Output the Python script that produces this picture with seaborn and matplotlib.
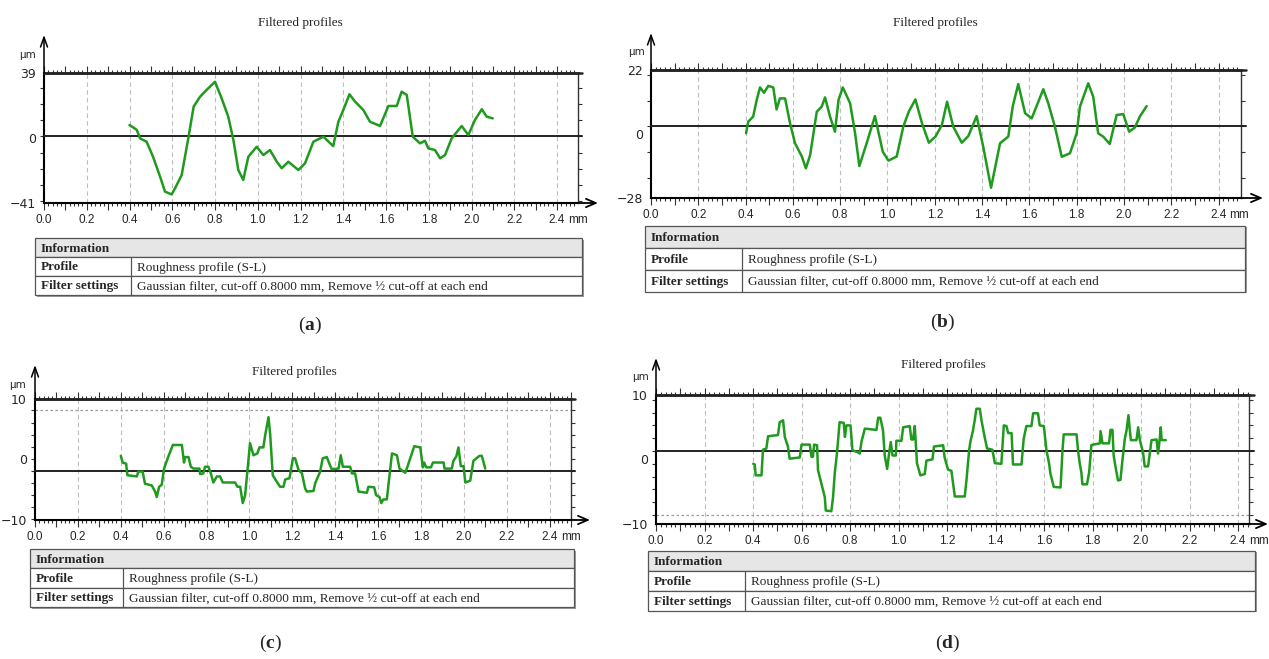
import numpy as np
import matplotlib
matplotlib.use('Agg')
import matplotlib.pyplot as plt
import seaborn as sns
from matplotlib import font_manager
from matplotlib.patches import Rectangle
from matplotlib.ticker import MultipleLocator, FixedLocator, FuncFormatter

# Filtered roughness profiles (x in mm, y in um)
a_x = [0.40, 0.434, 0.449, 0.48, 0.51, 0.543, 0.566, 0.597, 0.613, 0.644,
       0.675, 0.70, 0.73, 0.76, 0.80, 0.831, 0.862, 0.886, 0.909, 0.932,
       0.956, 0.995, 1.026, 1.057, 1.089, 1.112, 1.143, 1.19, 1.221, 1.26,
       1.307, 1.353, 1.377, 1.40, 1.429, 1.455, 1.494, 1.525, 1.572, 1.611,
       1.65, 1.673, 1.697, 1.725, 1.759, 1.782, 1.798, 1.829, 1.853, 1.876,
       1.907, 1.954, 1.985, 2.016, 2.048, 2.071, 2.099]
a_y = [7, 4, -1.2, -3.3, -12.5, -24.8, -34, -35.7, -32, -23.8,
       -1.2, 18.3, 24.4, 28.5, 33.6, 23.4, 12.1, -2.2, -20.7, -26.8,
       -12.5, -6.4, -11.5, -8.4, -15.6, -19.6, -15.6, -20.7, -16.6, -3.3,
       -0.2, -6, 9, 16.2, 25.9, 21.4, 16.2, 9, 6.4, 18.7,
       18.7, 27.5, 25.5, -0.2, -4.3, -2.7, -7.4, -8.4, -13.5, -11.5,
       -1.2, 6.4, 0.8, 10.1, 16.7, 12.1, 11.1]

b_x = [0.402, 0.411, 0.432, 0.447, 0.461, 0.478, 0.496, 0.517, 0.531, 0.545,
       0.567, 0.588, 0.609, 0.638, 0.655, 0.673, 0.701, 0.722, 0.736, 0.757,
       0.778, 0.793, 0.811, 0.842, 0.863, 0.881, 0.912, 0.947, 0.98, 1.004,
       1.039, 1.067, 1.09, 1.118, 1.146, 1.175, 1.203, 1.23, 1.252, 1.278,
       1.314, 1.342, 1.377, 1.405, 1.438, 1.476, 1.511, 1.53, 1.553, 1.582,
       1.61, 1.659, 1.68, 1.708, 1.737, 1.772, 1.80, 1.814, 1.849, 1.87,
       1.891, 1.912, 1.94, 1.969, 1.997, 2.022, 2.046, 2.067, 2.096]
b_y = [-2.7, 1.8, 3.8, 10.3, 15.2, 13.1, 15.8, 15.2, 6.6, 10.9,
       10.9, 1.2, -6.6, -11.8, -16.4, -11.2, 5.7, 7.7, 11.3, 3.8,
       -2.1, 10.3, 15.2, 9, -2.7, -15.5, -6.6, 4, -9.9, -13.4,
       -11.8, -0.1, 5.7, 10.5, 1.2, -6.4, -4, 0.5, 9.6, -0.1,
       -6.4, -3.8, 4, -8, -24, -6.6, -4, 7.9, 16.5, 5.1,
       3.1, 14.5, 9, -0.1, -11.9, -10.5, -2.7, 7.7, 16.8, 11.6,
       -2.7, -4, -6.9, 4.4, 4.8, -2.1, -0.5, 3.8, 7.9]

c_x = [0.40, 0.409, 0.425, 0.431, 0.475, 0.482, 0.502, 0.513, 0.545, 0.56,
       0.568, 0.579, 0.591, 0.602, 0.622, 0.643, 0.685, 0.695, 0.70, 0.716,
       0.727, 0.739, 0.767, 0.77, 0.785, 0.793, 0.809, 0.82, 0.832, 0.848,
       0.863, 0.876, 0.933, 0.944, 0.957, 0.969, 0.98, 1.003, 1.019, 1.037,
       1.047, 1.065, 1.073, 1.089, 1.097, 1.109, 1.128, 1.143, 1.159, 1.167,
       1.187, 1.203, 1.213, 1.229, 1.245, 1.26, 1.268, 1.299, 1.307, 1.33,
       1.342, 1.361, 1.373, 1.384, 1.416, 1.426, 1.436, 1.47, 1.478, 1.493,
       1.509, 1.548, 1.555, 1.582, 1.591, 1.607, 1.615, 1.625, 1.641, 1.665,
       1.688, 1.70, 1.727, 1.738, 1.75, 1.769, 1.797, 1.809, 1.815, 1.825,
       1.847, 1.856, 1.906, 1.91, 1.944, 1.952, 1.965, 1.975, 1.986, 1.999,
       2.007, 2.03, 2.045, 2.073, 2.084, 2.10]
c_y = [2.5, 1.4, 1.2, -0.7, -0.9, -0.1, -0.1, -2.1, -2.4, -3.4,
       -4.3, -2.6, -2.3, 0.4, 2.4, 4.3, 4.3, 1.4, 2.3, 2.3,
       0.7, 0.4, 0.4, -0.5, -0.4, 0.7, 0.7, -0.4, -1.9, -0.9,
       -0.9, -1.9, -1.9, -2.6, -2.6, -5.3, -4, 4.6, 2.6, 2.9,
       3.9, 3.9, 5.8, 8.9, 6, -0.7, -1.8, -2.6, -2.6, -1.4,
       -1.2, 2.1, 2.1, 0.2, -0.4, -2.9, -3.4, -3.3, -2, -0.1,
       2.1, 2.3, 1.2, 0.3, 0.4, 2.6, 0.7, 0.7, -0.4, -0.4,
       -3.4, -3.6, -2.6, -2.7, -4, -4.3, -5.3, -4.7, -4.7, 2.9,
       2.6, 0.4, -0.3, 0.8, 2.1, 4.1, 3.9, 0.6, 1.4, 0.6,
       0.6, 1.4, 1.4, 0.4, 0.4, 1.7, 2.4, 3.9, 0.8, 0.8,
       -1.9, -1.6, 1.7, 2.5, 2.5, 0.4]

d_x = [0.401, 0.407, 0.411, 0.435, 0.441, 0.455, 0.462, 0.503, 0.51, 0.524,
       0.531, 0.544, 0.551, 0.593, 0.60, 0.634, 0.641, 0.647, 0.652, 0.664,
       0.668, 0.682, 0.696, 0.70, 0.723, 0.73, 0.737, 0.746, 0.757, 0.774,
       0.779, 0.785, 0.802, 0.81, 0.833, 0.84, 0.847, 0.861, 0.909, 0.916,
       0.925, 0.936, 0.943, 0.953, 0.961, 0.968, 0.975, 0.989, 0.991, 1.012,
       1.019, 1.046, 1.053, 1.06, 1.067, 1.076, 1.09, 1.108, 1.115, 1.14,
       1.146, 1.184, 1.19, 1.204, 1.218, 1.225, 1.232, 1.273, 1.28, 1.291,
       1.296, 1.307, 1.314, 1.321, 1.335, 1.342, 1.355, 1.365, 1.387, 1.397,
       1.424, 1.434, 1.445, 1.452, 1.466, 1.472, 1.507, 1.516, 1.527, 1.548,
       1.555, 1.575, 1.582, 1.599, 1.61, 1.621, 1.626, 1.64, 1.668, 1.676,
       1.681, 1.734, 1.74, 1.747, 1.754, 1.758, 1.777, 1.786, 1.795, 1.802,
       1.83, 1.833, 1.841, 1.868, 1.874, 1.882, 1.887, 1.896, 1.905, 1.915,
       1.923, 1.933, 1.94, 1.948, 1.953, 1.958, 1.981, 1.988, 1.995, 2.008,
       2.015, 2.029, 2.036, 2.043, 2.064, 2.07, 2.077, 2.081, 2.085, 2.102]
d_y = [-2, -2.1, -3.8, -3.8, 0.2, 0.4, 2.3, 2.5, 4.5, 4.8,
       2.2, 0.7, -1.2, -1, 1, 1, -0.9, -0.9, 1, 0.9,
       -3, -5.1, -7.2, -9.3, -9.4, -7.2, -3.5, -0.4, 4.5, 4.4,
       2.2, 4, 4, 0.1, -0.2, -0.4, 1.4, 3.5, 3.3, 5.2,
       5.2, 3.2, -0.7, -2.8, -0.4, 1.4, -0.7, -0.7, 1.6, 1.6,
       3.7, 3.9, 1.8, 1.8, 3.9, -1.9, -3.8, -3.6, -1.5, -1.3,
       0.7, 0.9, -1.0, -2.9, -3.1, -5.1, -7.1, -7.1, -4.6, 0.1,
       1.4, 3.2, 4.8, 6.6, 6.6, 4.8, 2.2, 0.4, 0.2, -1.9,
       -2, 4, 3.9, 2.8, 2.8, -2.1, -2.1, 1.9, 3.9, 3.9,
       5.9, 5.9, 4, 3.9, 0.1, -2, -3.5, -5.6, -5.7, 0.1,
       2.6, 2.6, 0.1, -1.9, -3.4, -5.2, -5.2, -3.3, 0.9, 1,
       1.2, 3.1, 1.2, 1.2, 3.3, 3.3, -0.7, -2.8, -4.6, -4.5,
       -1.5, 1.9, 3.2, 5.6, 3.5, 1.7, 1.7, 3.7, 1.7, -0.2,
       -2.4, -2.4, -0.4, 1.7, 1.8, -0.4, 1.9, 3.7, 1.7, 1.7]

profiles_x = [a_x, b_x, c_x, d_x]
profiles_y = [a_y, b_y, c_y, d_y]
panel_tags = ['a', 'b', 'c', 'd']
y_tick_text = [['−41', '0', '39'], ['−28', '0', '22'],
               ['−10', '0', '10'], ['−10', '0', '10']]
y_limits = [(-41, 39), (-28, 22), (-8.1, 11.9), (-11.4, 8.75)]
y_minor_step = [10, 10, 2, 2]
dotted_level = [None, None, 10, -10]
x_right = [2.498, 2.495, 2.5, 2.445]

table_head = 'Information'
table_rows = ['Profile', 'Filter settings']
table_values = ['Roughness profile (S-L)',
                'Gaussian filter, cut-off 0.8000 mm, Remove ½ cut-off at each end']

# pixel layout of each panel in the 1269x659 picture
W, H = 1269, 659
layout = [
    dict(plot=(44, 73, 578, 203), up=35, tip=598, title=(300, 23), unit=(28, 55),
         table=(35, 238, 582, 295, 131), cap=(310, 325)),
    dict(plot=(651, 70, 1241, 198), up=33, tip=1263, title=(935, 23), unit=(637, 52),
         table=(645, 226, 1245, 292, 742), cap=(943, 322)),
    dict(plot=(35, 399, 571, 520), up=365, tip=590, title=(294, 372), unit=(18, 385),
         table=(30, 549, 574, 607, 123), cap=(270, 643)),
    dict(plot=(656, 395, 1249, 524), up=358, tip=1268, title=(943, 365), unit=(641, 377),
         table=(648, 551, 1255, 611, 745), cap=(948, 643)),
]

sns.set_style('white')
SERIF = 'Liberation Serif'
names = {f.name for f in font_manager.fontManager.ttflist}
NARROW = 'Liberation Sans Narrow' if 'Liberation Sans Narrow' in names else 'Liberation Sans'
plt.rcParams['font.family'] = ['DejaVu Sans']
plt.rcParams['mathtext.fontset'] = 'custom'
plt.rcParams['mathtext.rm'] = SERIF
plt.rcParams['mathtext.bf'] = SERIF + ':bold'
GREEN = '#1f9a1f'

fig = plt.figure(figsize=(W / 100, H / 100), dpi=100)


def px_rect(l, t, r, b):
    return [l / W, 1 - b / H, (r - l) / W, (b - t) / H]


def xfmt(v, pos):
    k = int(round(v * 10))
    return f'{k / 10:.1f}' if k % 2 == 0 else ''


def draw_panel(i):
    lay = layout[i]
    l, t, r, b = lay['plot']
    lo, hi = y_limits[i]
    ax = fig.add_axes(px_rect(l, t, r, b))
    sns.lineplot(x=profiles_x[i], y=profiles_y[i], ax=ax, color=GREEN, lw=1.8,
                 sort=False, estimator=None, zorder=4)
    ax.set_xlim(0, x_right[i])
    ax.set_ylim(lo, hi)
    ax.set_xlabel('')
    ax.set_ylabel('')

    for gx in np.arange(0.2, x_right[i], 0.2):
        ax.axvline(gx, color='#bdbdbd', ls=(0, (4, 3)), lw=0.8, zorder=1)
    ax.axhline(0, xmax=1.008, color='#222222', lw=1.4, clip_on=False, zorder=3)
    ax.axhline(hi, xmax=1.008, color='#222222', lw=1.8, clip_on=False, zorder=3)
    if dotted_level[i] is not None:
        ax.axhline(dotted_level[i], color='#9a9a9a', ls=(0, (2, 2)), lw=0.9, zorder=2)

    for side in ['left', 'bottom']:
        ax.spines[side].set_color('black')
        ax.spines[side].set_linewidth(1.5)
    ax.spines['top'].set_color('#222222')
    ax.spines['top'].set_linewidth(1.8)
    ax.spines['right'].set_color('#333333')
    ax.spines['right'].set_linewidth(1.0)

    ax.xaxis.set_major_locator(MultipleLocator(0.1))
    ax.xaxis.set_minor_locator(MultipleLocator(0.02))
    ax.xaxis.set_major_formatter(FuncFormatter(xfmt))
    ax.tick_params(axis='x', which='both', top=True, bottom=True, direction='out',
                   color='#333333', width=0.8)
    ax.tick_params(axis='x', which='major', length=5, labelsize=8.5, pad=3)
    ax.tick_params(axis='x', which='minor', length=2.5)
    for lab in ax.get_xticklabels():
        lab.set_family(NARROW)
    ax.annotate('mm', xy=(2.4, 0), xycoords=('data', 'axes fraction'),
                xytext=(8, -8), textcoords='offset points', ha='left', va='top',
                fontsize=8.5, family=NARROW)

    ax.yaxis.set_major_locator(FixedLocator([lo, (lo + hi) / 2, hi]))
    ax.set_yticklabels(y_tick_text[i])
    ax.yaxis.set_minor_locator(MultipleLocator(y_minor_step[i]))
    ax.tick_params(axis='y', which='major', length=0, pad=6, labelsize=9)
    ax.tick_params(axis='y', which='minor', left=True, right=True, direction='out',
                   length=3, width=0.8, color='#333333')

    # axis arrows
    up = 1 + (t - lay['up']) / (b - t)
    ax.annotate('', xy=(0, up), xytext=(0, 1), xycoords='axes fraction',
                arrowprops=dict(arrowstyle='->,head_length=0.7,head_width=0.25',
                                lw=1.1, color='black', shrinkA=0, shrinkB=0),
                annotation_clip=False)
    rt = 1 + (lay['tip'] - r) / (r - l)
    ax.annotate('', xy=(rt, 0), xytext=(1, 0), xycoords='axes fraction',
                arrowprops=dict(arrowstyle='->,head_length=0.7,head_width=0.3',
                                lw=1.3, color='black', shrinkA=0, shrinkB=0),
                annotation_clip=False)

    tx, ty = lay['title']
    fig.text(tx / W, 1 - ty / H, 'Filtered profiles', ha='center', va='center',
             family=SERIF, fontsize=9.5)
    ux, uy = lay['unit']
    fig.text(ux / W, 1 - uy / H, 'µm', ha='center', va='center', fontsize=7.5)


def draw_table(i):
    l, t, r, b, split = layout[i]['table']
    tax = fig.add_axes(px_rect(l, t, r, b))
    tax.set_xlim(l, r)
    tax.set_ylim(b, t)
    tax.axis('off')
    rh = (b - t) / 3
    tax.add_patch(Rectangle((l + 1.5, t + 1.5), r - l, b - t, facecolor='#9c9c9c',
                            edgecolor='none', clip_on=False, zorder=1))
    tax.add_patch(Rectangle((l, t), r - l, rh, facecolor='#e6e6e6',
                            edgecolor='#555555', lw=0.9, clip_on=False, zorder=2))
    for k in range(2):
        y0 = t + rh * (k + 1)
        tax.add_patch(Rectangle((l, y0), r - l, rh, facecolor='white',
                                edgecolor='#555555', lw=0.9, clip_on=False, zorder=2))
        tax.plot([split, split], [y0, y0 + rh], color='#555555', lw=0.9, zorder=3,
                 clip_on=False)
        tax.text(l + 6, y0 + rh / 2 + 1, table_rows[k], ha='left', va='center',
                 family=SERIF, fontweight='bold', fontsize=9.5, zorder=4)
        tax.text(split + 6, y0 + rh / 2 + 1, table_values[k], ha='left', va='center',
                 family=SERIF, fontsize=9.5, zorder=4)
    tax.text(l + 6, t + rh / 2 + 1, table_head, ha='left', va='center', family=SERIF,
             fontweight='bold', fontsize=9.5, zorder=4)

    cx, cy = layout[i]['cap']
    fig.text(cx / W, 1 - cy / H, '($\\mathbf{' + panel_tags[i] + '}$)', ha='center',
             va='center', family=SERIF, fontsize=14)


for i in range(4):
    draw_panel(i)
    draw_table(i)

fig.savefig('out.png', dpi=100)
plt.close(fig)
